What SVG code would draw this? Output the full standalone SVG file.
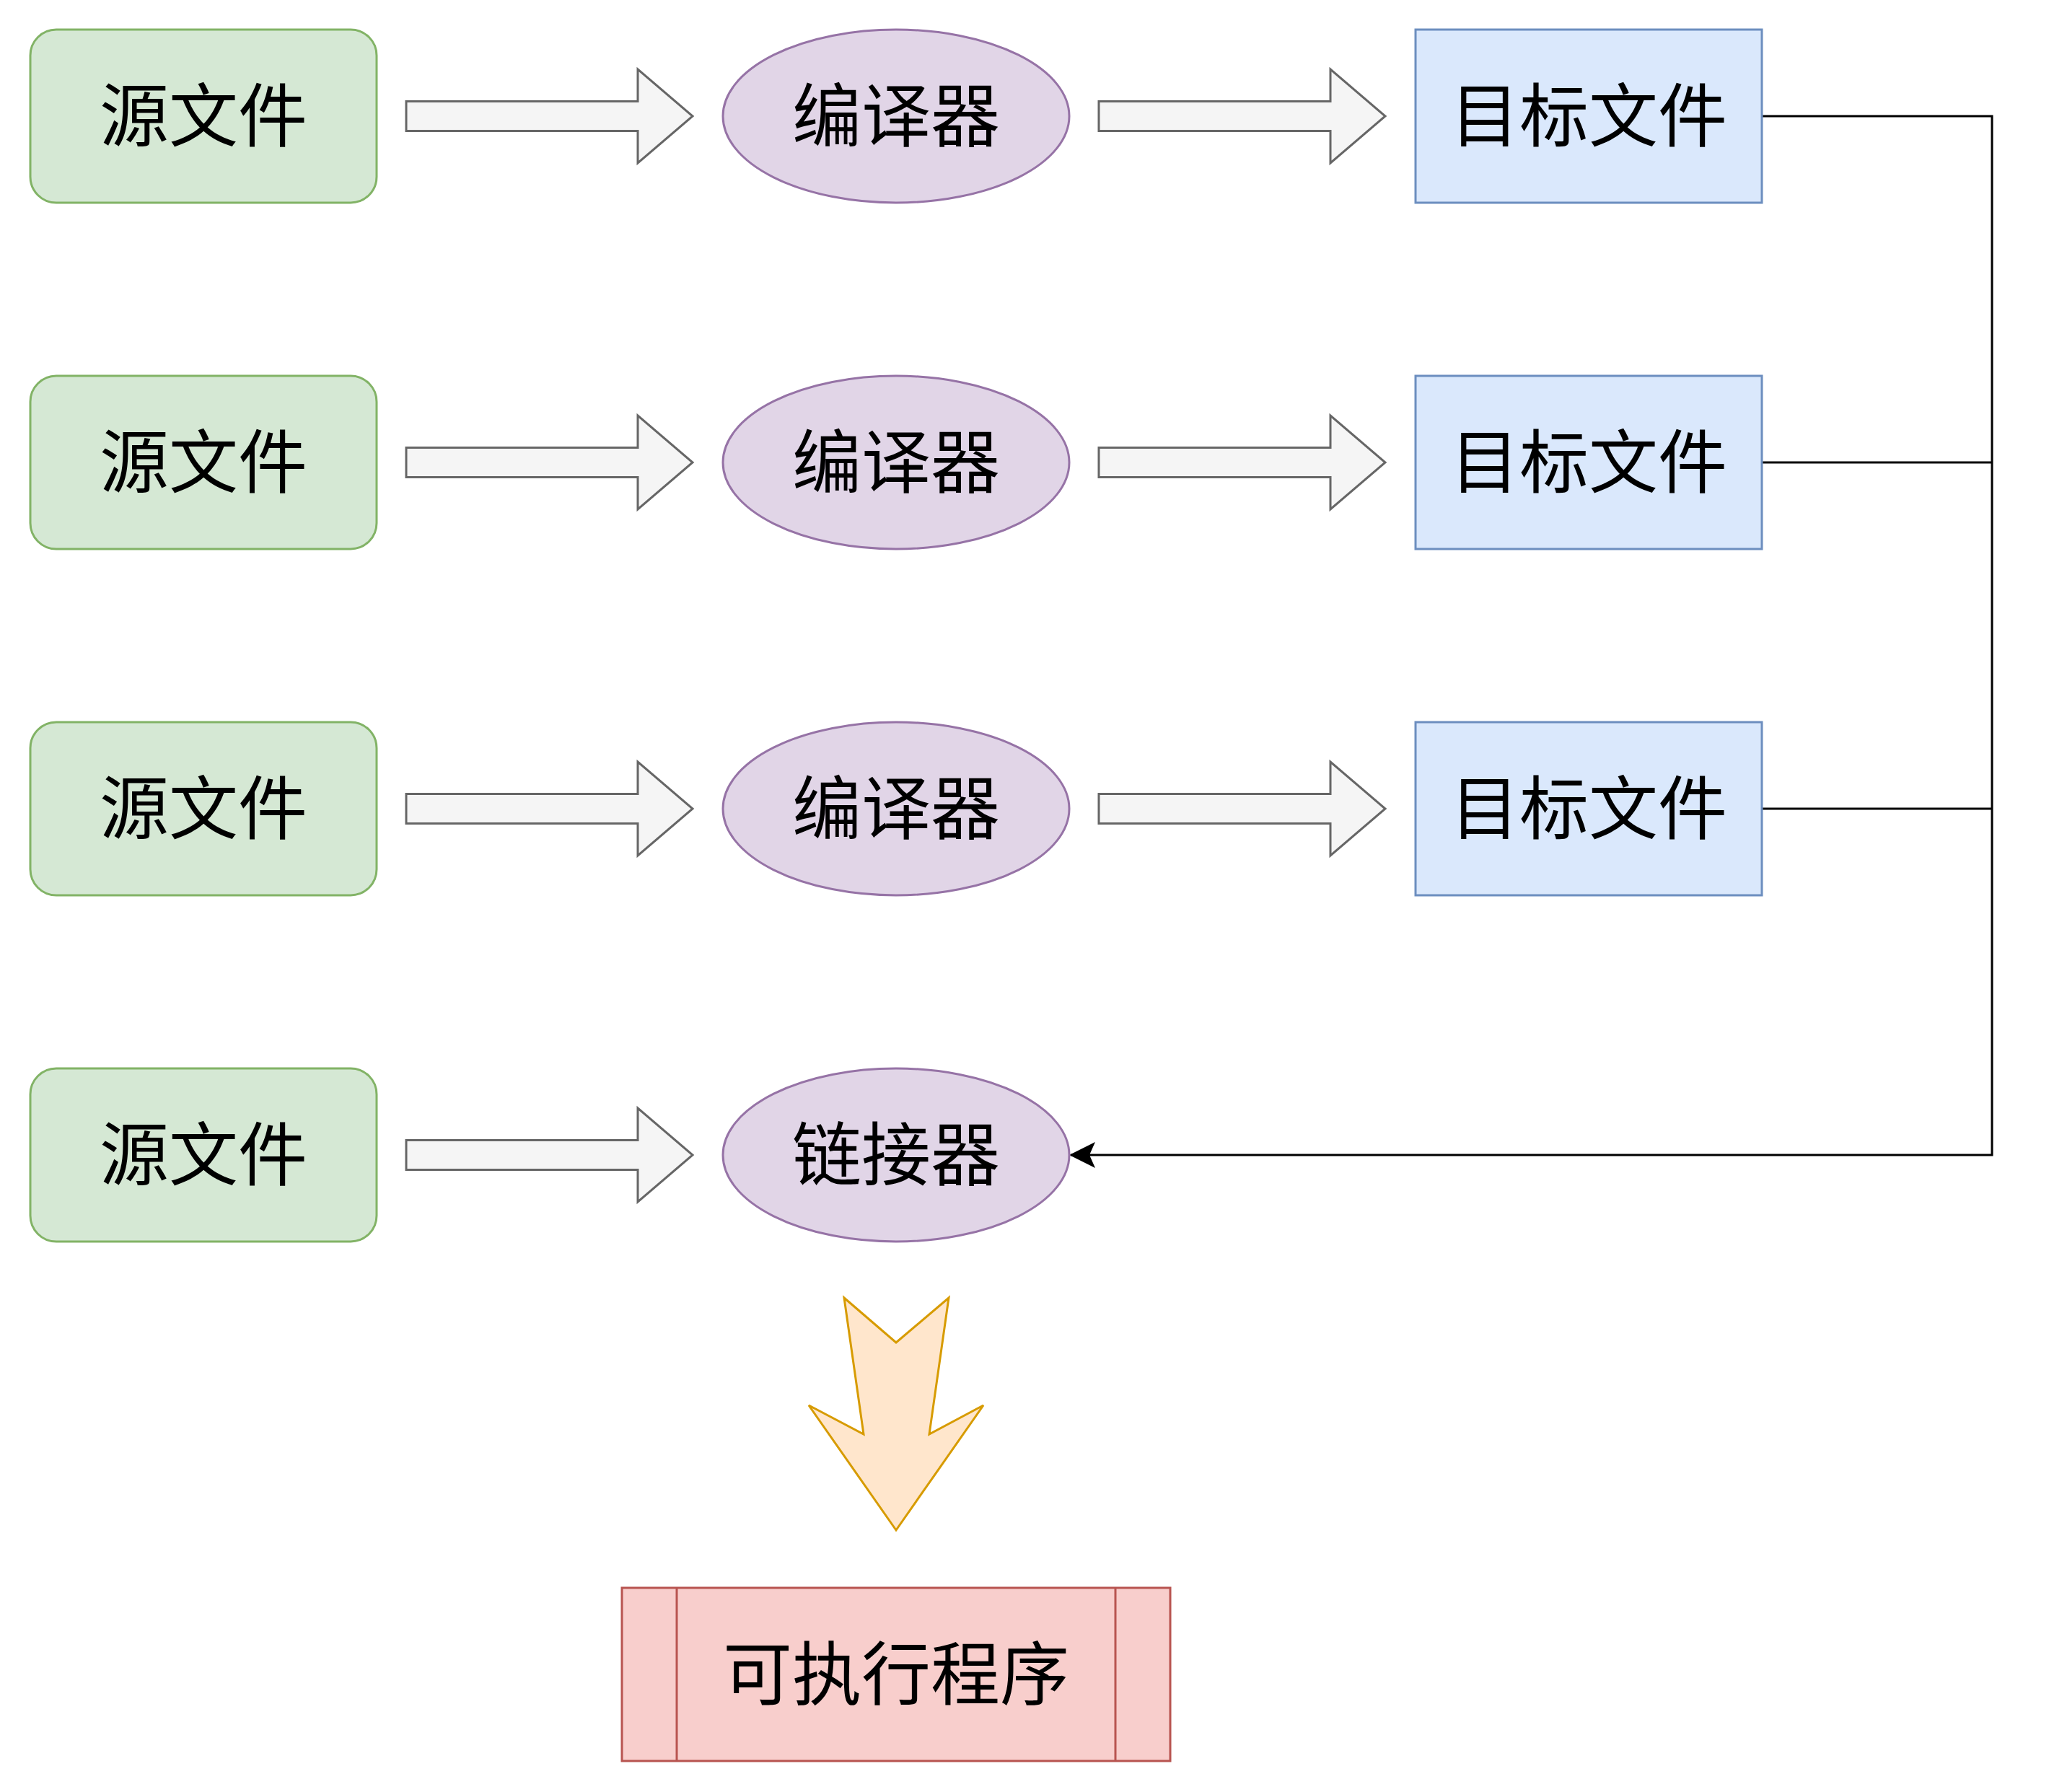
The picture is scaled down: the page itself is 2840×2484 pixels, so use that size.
<svg xmlns="http://www.w3.org/2000/svg" xmlns:xlink="http://www.w3.org/1999/xlink" width="2840" height="2484" viewBox="0 0 2840 2484">
<style>
text{font-family:"Liberation Sans","Noto Sans CJK SC",sans-serif;font-size:96px;fill:#000;text-anchor:middle;dominant-baseline:central}
.src{fill:#d5e8d4;stroke:#82b366;stroke-width:3}
.proc{fill:#e1d5e7;stroke:#9673a6;stroke-width:3}
.obj{fill:#dae8fc;stroke:#6c8ebf;stroke-width:3}
.blk{fill:#f5f5f5;stroke:#666666;stroke-width:3}
.big{fill:#ffe6cc;stroke:#d79b00;stroke-width:3}
.exe{fill:#f8cecc;stroke:#b85450;stroke-width:3}
.conn{fill:none;stroke:#000;stroke-width:3}
</style>
<defs>
<path id="barrow" d="M0,-20.5 H321 V-65 L397,0 L321,65 V20.5 H0 Z"/>
<marker id="arr" viewBox="0 0 36 36" refX="34" refY="18" markerWidth="36" markerHeight="36" markerUnits="userSpaceOnUse" orient="auto">
<path d="M0,0 L36,18 L0,36 L8,18 Z" fill="#000"/>
</marker>
</defs>
<g id="connectors">
<path class="conn" d="M2442,161 H2761 V1601 H1484" marker-end="url(#arr)"/>
<path class="conn" d="M2442,641 H2761"/>
<path class="conn" d="M2442,1121 H2761"/>
</g>
<g id="block-arrows">
<use xlink:href="#barrow" class="blk" transform="translate(563,161)"/>
<use xlink:href="#barrow" class="blk" transform="translate(1523,161)"/>
<use xlink:href="#barrow" class="blk" transform="translate(563,641)"/>
<use xlink:href="#barrow" class="blk" transform="translate(1523,641)"/>
<use xlink:href="#barrow" class="blk" transform="translate(563,1121)"/>
<use xlink:href="#barrow" class="blk" transform="translate(1523,1121)"/>
<use xlink:href="#barrow" class="blk" transform="translate(563,1601)"/>
</g>
<g id="src1"><rect class="src" x="42" y="41" width="480" height="240" rx="36"/><text x="282" y="161">源文件</text></g>
<g id="src2"><rect class="src" x="42" y="521" width="480" height="240" rx="36"/><text x="282" y="641">源文件</text></g>
<g id="src3"><rect class="src" x="42" y="1001" width="480" height="240" rx="36"/><text x="282" y="1121">源文件</text></g>
<g id="src4"><rect class="src" x="42" y="1481" width="480" height="240" rx="36"/><text x="282" y="1601">源文件</text></g>
<g id="comp1"><ellipse class="proc" cx="1242" cy="161" rx="240" ry="120"/><text x="1242" y="161">编译器</text></g>
<g id="comp2"><ellipse class="proc" cx="1242" cy="641" rx="240" ry="120"/><text x="1242" y="641">编译器</text></g>
<g id="comp3"><ellipse class="proc" cx="1242" cy="1121" rx="240" ry="120"/><text x="1242" y="1121">编译器</text></g>
<g id="linker"><ellipse class="proc" cx="1242" cy="1601" rx="240" ry="120"/><text x="1242" y="1601">链接器</text></g>
<g id="obj1"><rect class="obj" x="1962" y="41" width="480" height="240"/><text x="2202" y="161">目标文件</text></g>
<g id="obj2"><rect class="obj" x="1962" y="521" width="480" height="240"/><text x="2202" y="641">目标文件</text></g>
<g id="obj3"><rect class="obj" x="1962" y="1001" width="480" height="240"/><text x="2202" y="1121">目标文件</text></g>
<g id="down-arrow"><path class="big" d="M1170,1799 L1242,1861 L1315,1799 L1288,1988 L1363,1948 L1242,2121 L1121,1948 L1197,1988 Z"/></g>
<g id="exe"><rect class="exe" x="862" y="2201" width="760" height="240"/><line class="exe" x1="938" y1="2201" x2="938" y2="2441"/><line class="exe" x1="1546" y1="2201" x2="1546" y2="2441"/><text x="1242" y="2321">可执行程序</text></g>
</svg>
